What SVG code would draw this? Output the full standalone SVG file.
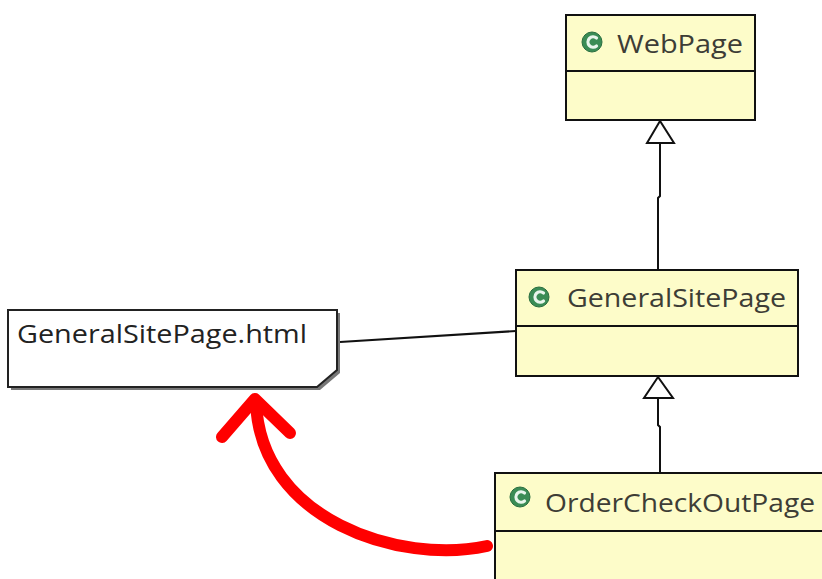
<svg xmlns="http://www.w3.org/2000/svg" width="822" height="579" viewBox="0 0 822 579">
<style>
.cls{fill:#fdfcc9;stroke:#111;stroke-width:2}
.div{stroke:#111;stroke-width:2}
.name{font-family:"Open Sans","DejaVu Sans",sans-serif;font-size:25px;fill:#3d3d36}
.note{font-family:"Open Sans","DejaVu Sans",sans-serif;font-size:25px;fill:#222}
.conn{fill:none;stroke:#111;stroke-width:2}
.tri{fill:#fff;stroke:#111;stroke-width:2;stroke-linejoin:miter}
.icon{fill:#3a8c55;stroke:#2a6e40;stroke-width:1}
.iconc{fill:none;stroke:#e8f5ec;stroke-width:3.2;stroke-linecap:round}
</style>
<rect width="822" height="579" fill="#fff"/>
<g id="connectors">
<polyline class="conn" points="660,143 660,196 658,198 658,270"/>
<polyline class="conn" points="658,398 658,425 660,427 660,473"/>
<line class="conn" x1="340" y1="342" x2="516" y2="331"/>
<polygon class="tri" points="660,121 647,143 674,143"/>
<polygon class="tri" points="658,377 644,398 673,398"/>
</g>
<g id="WebPage">
<rect class="cls" x="566" y="15" width="189" height="105"/>
<line class="div" x1="566" y1="71" x2="755" y2="71"/>
<circle class="icon" cx="592" cy="42" r="10"/>
<path class="iconc" d="M596.5,38 A5.2,5.2 0 1 0 596.5,46"/>
<text class="name" x="617" y="53" textLength="126" lengthAdjust="spacingAndGlyphs">WebPage</text>
</g>
<g id="GeneralSitePage">
<rect class="cls" x="516" y="270" width="282" height="106"/>
<line class="div" x1="516" y1="326" x2="798" y2="326"/>
<circle class="icon" cx="539" cy="297" r="10"/>
<path class="iconc" d="M543.5,293 A5.2,5.2 0 1 0 543.5,301"/>
<text class="name" x="567" y="307" textLength="219" lengthAdjust="spacingAndGlyphs">GeneralSitePage</text>
</g>
<g id="OrderCheckOutPage">
<rect class="cls" x="495" y="473" width="340" height="120"/>
<line class="div" x1="495" y1="531" x2="822" y2="531"/>
<circle class="icon" cx="520" cy="497" r="10"/>
<path class="iconc" d="M524.5,493 A5.2,5.2 0 1 0 524.5,501"/>
<text class="name" x="545" y="512" textLength="270" lengthAdjust="spacingAndGlyphs">OrderCheckOutPage</text>
</g>
<g id="GeneralSitePage_html">
<polygon points="11,313 340,313 340,373 320,390 11,390" fill="#777"/>
<polygon points="8,310 337,310 337,370 317,387 8,387" fill="#fff" stroke="#222" stroke-width="2"/>
<text class="note" x="17" y="343" textLength="290" lengthAdjust="spacingAndGlyphs">GeneralSitePage.html</text>
</g>
<g id="red-arrow" fill="none" stroke="#ff0000" stroke-width="12" stroke-linecap="round" stroke-linejoin="round">
<path d="M487,546 C400,565 260,520 256,402"/>
<polyline points="222,437 255,399 290,433"/>
</g>
</svg>
